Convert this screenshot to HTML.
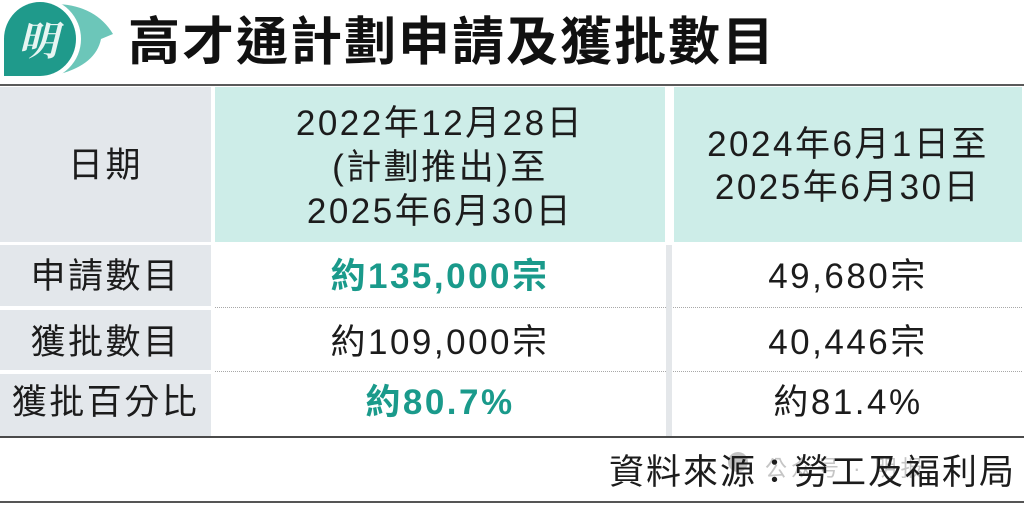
<!DOCTYPE html>
<html><head><meta charset="utf-8">
<style>
html,body{margin:0;padding:0;background:#fff;}
body{width:1024px;height:510px;position:relative;overflow:hidden;font-family:"Liberation Sans","Noto Sans CJK TC",sans-serif;color:#1c1c1c;}
.a{position:absolute;}
.t{position:absolute;white-space:nowrap;text-align:center;font-size:35px;letter-spacing:2.5px;line-height:44px;height:44px;}
.g{background:#e3e7eb;}
.m{background:#cdede8;}
.b{font-weight:bold;color:#1a9a8b;}
.dot{position:absolute;left:215px;width:807px;height:0;border-top:1.5px dotted #a8a8a8;}
</style></head>
<body>
<!-- logo -->
<svg class="a" style="left:0;top:0" width="120" height="82" viewBox="0 0 120 82">
  <path d="M58,4 Q96,6 113,34 L101,39 Q96,64 60,74 Z" fill="#6cc6b9"/>
  <circle cx="40" cy="39" r="41" fill="#fff"/>
  <path d="M4,76 L4,39 A36,37 0 1,1 40,76 Z" fill="#1f9a8b"/>
  <text x="38" y="55" text-anchor="middle" font-family="Noto Serif CJK SC, serif" font-weight="bold" font-size="40" fill="#e6f5f2" font-style="italic">明</text>
</svg>
<!-- title -->
<div class="a" style="left:128px;top:12px;font-size:52px;line-height:52px;font-weight:bold;letter-spacing:2px;color:#111;font-family:'Noto Sans CJK TC','Liberation Sans',sans-serif;white-space:nowrap;">高才通計劃申請及獲批數目</div>

<!-- lines -->
<div class="a" style="left:0;top:84px;width:1024px;height:2px;background:#5a5a5a;"></div>

<!-- header cells -->
<div class="a g" style="left:0;top:87px;width:211px;height:155px;"></div>
<div class="a m" style="left:215px;top:87px;width:450px;height:155px;"></div>
<div class="a m" style="left:674px;top:87px;width:348px;height:155px;"></div>

<!-- row label cells -->
<div class="a g" style="left:0;top:245px;width:211px;height:61px;"></div>
<div class="a g" style="left:0;top:310px;width:211px;height:60px;"></div>
<div class="a g" style="left:0;top:374px;width:211px;height:63px;"></div>

<!-- dotted separators -->
<div class="dot" style="top:307px;"></div>
<div class="dot" style="top:371px;"></div>

<!-- vertical separator bar -->
<div class="a" style="left:666px;top:245px;width:6px;height:192px;background:#e4e7ea;"></div>

<!-- bottom lines -->
<div class="a" style="left:0;top:436px;width:1024px;height:2px;background:#4a4a4a;"></div>
<div class="a" style="left:0;top:501px;width:1024px;height:2px;background:#555;"></div>

<!-- header text -->
<div class="t" style="left:0;top:144px;width:211px;">日期</div>
<div class="t" style="left:215px;top:102px;width:450px;height:132px;">2022年12月28日<br>(計劃推出)至<br>2025年6月30日</div>
<div class="t" style="left:674px;top:123px;width:348px;height:86px;line-height:43px;">2024年6月1日至<br>2025年6月30日</div>

<!-- row 1 -->
<div class="t" style="left:0;top:255px;width:211px;">申請數目</div>
<div class="t b" style="left:215px;top:255px;width:450px;">約135,000宗</div>
<div class="t" style="left:674px;top:255px;width:348px;">49,680宗</div>

<!-- row 2 -->
<div class="t" style="left:0;top:321px;width:211px;">獲批數目</div>
<div class="t" style="left:215px;top:321px;width:450px;">約109,000宗</div>
<div class="t" style="left:674px;top:321px;width:348px;">40,446宗</div>

<!-- row 3 -->
<div class="t" style="left:0;top:381px;width:211px;">獲批百分比</div>
<div class="t b" style="left:215px;top:381px;width:450px;">約80.7%</div>
<div class="t" style="left:674px;top:381px;width:348px;">約81.4%</div>

<!-- watermark hint -->
<div class="a" style="left:728px;top:452px;width:20px;height:20px;border-radius:50%;background:rgba(120,120,120,0.45);"></div>
<div class="a" style="left:765px;top:455px;font-size:22px;line-height:28px;color:rgba(140,140,140,0.5);white-space:nowrap;letter-spacing:4px;">公众号 · 明报</div>

<!-- footer -->
<div class="t" style="left:auto;right:8px;top:451px;text-align:right;letter-spacing:2px;">資料來源：勞工及福利局</div>
</body></html>
